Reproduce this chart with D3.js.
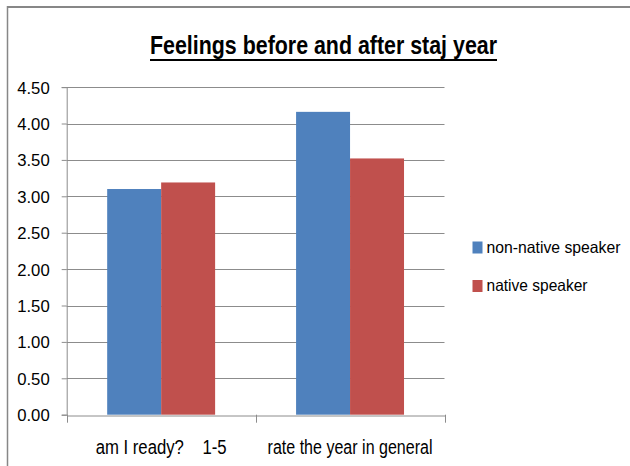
<!DOCTYPE html>
<html>
<head>
<meta charset="utf-8">
<script src="https://cdn.jsdelivr.net/npm/d3@7"></script>
<style>
  html, body { margin: 0; padding: 0; background: #ffffff; }
  svg { display: block; }
  text { font-family: "Liberation Sans", Arial, sans-serif; fill: #000; }
</style>
</head>
<body>
<svg id="chart" width="630" height="466"></svg>
<script>
// Survey results: mean scores on a 1-5 scale
const categories = ["am I ready?    1-5", "rate the year in general"];
const series = ["non-native speaker", "native speaker"];
const nonNative = [3.10, 4.16];
const native = [3.19, 3.52];
const yTicks = [0, 0.5, 1, 1.5, 2, 2.5, 3, 3.5, 4, 4.5];
const titleText = "Feelings before and after staj year";

const colors = { "non-native speaker": "#4F81BD", "native speaker": "#C0504D" };
const values = { "non-native speaker": nonNative, "native speaker": native };

const svg = d3.select("#chart");
svg.append("rect").attr("width", 630).attr("height", 466).attr("fill", "#fff");

// chart area frame (top and left edges visible)
svg.append("line").attr("x1", 7).attr("x2", 630).attr("y1", 7).attr("y2", 7)
  .attr("stroke", "#878787").attr("stroke-width", 2);
svg.append("line").attr("x1", 7.5).attr("x2", 7.5).attr("y1", 6).attr("y2", 466)
  .attr("stroke", "#878787").attr("stroke-width", 1.5);

const plotLeft = 66.7, plotRight = 444.5, plotTop = 87.1, plotBottom = 414.7;

const y = d3.scaleLinear().domain([0, 4.5]).range([plotBottom, plotTop]);
const x = d3.scaleBand().domain(categories).range([plotLeft, plotRight]).padding(0);
const xs = d3.scaleBand().domain(series).range([0, x.bandwidth()])
  .paddingInner(0).paddingOuter(0.75);

// horizontal gridlines
svg.append("g").selectAll("line").data(yTicks.filter(d => d > 0)).join("line")
  .attr("x1", plotLeft).attr("x2", plotRight)
  .attr("y1", d => Math.round(y(d)) + 0.5).attr("y2", d => Math.round(y(d)) + 0.5)
  .attr("stroke", "#8c8c8c").attr("stroke-width", 1);

// y axis
const yAxis = d3.axisLeft(y).tickValues(yTicks).tickSize(5).tickPadding(12)
  .tickFormat(d3.format(".2f"));
const gy = svg.append("g").attr("transform", `translate(${plotLeft},0)`).call(yAxis);
gy.select(".domain").attr("stroke", "#8c8c8c");
gy.selectAll(".tick line").attr("stroke", "#8c8c8c");
gy.selectAll(".tick text").attr("font-size", 16.5).attr("font-family", "Liberation Sans, Arial, sans-serif")
  .attr("fill", "#000").attr("dy", "0.36em")
  .attr("textLength", 32.5).attr("lengthAdjust", "spacingAndGlyphs");

// bars
const groups = svg.append("g").selectAll("g").data(categories).join("g")
  .attr("transform", d => `translate(${x(d)},0)`);
groups.selectAll("rect").data((c, i) => series.map(s => ({ s, v: values[s][i] }))).join("rect")
  .attr("x", d => xs(d.s))
  .attr("width", xs.bandwidth())
  .attr("y", d => y(d.v))
  .attr("height", d => y(0) - y(d.v))
  .attr("fill", d => colors[d.s]);

// x axis
const xAxis = d3.axisBottom(x).tickSize(0).tickFormat("");
const gx = svg.append("g").attr("transform", `translate(0,${Math.round(plotBottom) + 0.5})`).call(xAxis);
gx.select(".domain").attr("stroke", "#8c8c8c");
// category boundary ticks
const bounds = [plotLeft, x(categories[1]), plotRight];
svg.append("g").selectAll("line").data(bounds).join("line")
  .attr("x1", d => Math.round(d) + 0.5).attr("x2", d => Math.round(d) + 0.5)
  .attr("y1", plotBottom).attr("y2", plotBottom + 8)
  .attr("stroke", "#8c8c8c");

// category labels
const labelWidths = [131, 165];
svg.append("g").selectAll("text").data(categories).join("text")
  .attr("x", d => x(d) + x.bandwidth() / 2)
  .attr("y", 453.5)
  .attr("text-anchor", "middle")
  .attr("font-size", 19.5)
  .style("white-space", "pre")
  .attr("textLength", (d, i) => labelWidths[i])
  .attr("lengthAdjust", "spacingAndGlyphs")
  .text(d => d);

// title
svg.append("text")
  .attr("x", 150).attr("y", 54)
  .attr("font-size", 26).attr("font-weight", "bold")
  .attr("textLength", 347).attr("lengthAdjust", "spacingAndGlyphs")
  .text(titleText);
svg.append("line").attr("x1", 150).attr("x2", 497).attr("y1", 60).attr("y2", 60)
  .attr("stroke", "#000").attr("stroke-width", 2);

// legend
const legendWidths = [134, 101];
const legend = svg.append("g").selectAll("g").data(series).join("g")
  .attr("transform", (d, i) => `translate(472.5,${241.5 + i * 38.5})`);
legend.append("rect").attr("width", 10).attr("height", 12)
  .attr("fill", d => colors[d]);
legend.append("text").attr("x", 14).attr("y", 11.3)
  .attr("font-size", 16.5)
  .attr("textLength", (d, i) => legendWidths[i])
  .attr("lengthAdjust", "spacingAndGlyphs")
  .text(d => d);
</script>
</body>
</html>
